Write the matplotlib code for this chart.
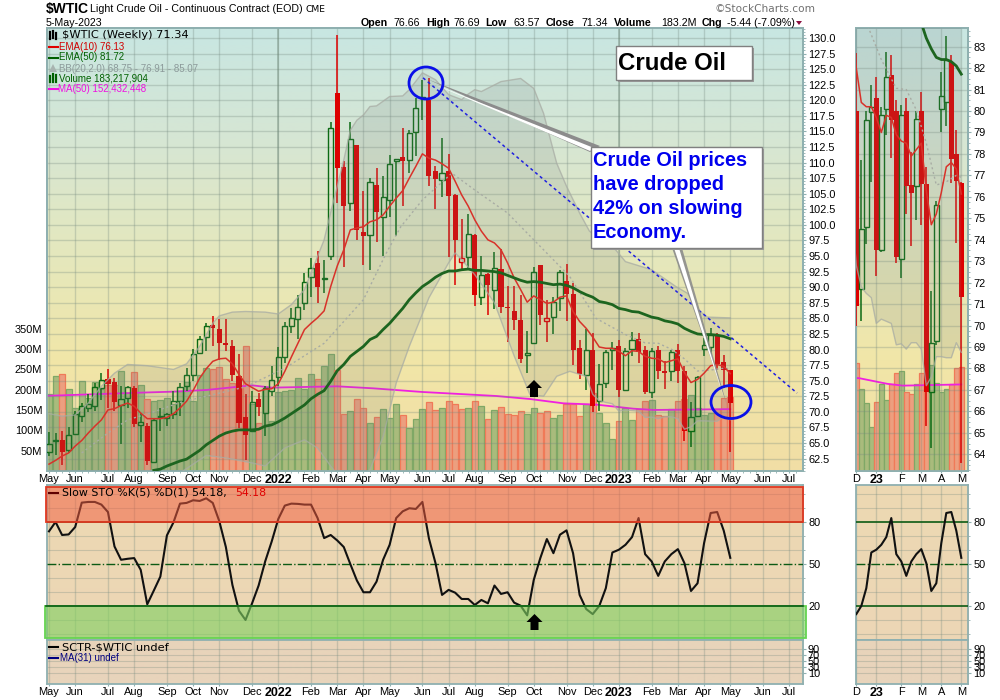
"""Weekly $WTIC candlestick chart with volume, slow stochastic and a detail inset."""

import matplotlib
matplotlib.use("Agg")
import numpy as np
import matplotlib.pyplot as plt
from matplotlib.patches import Rectangle, Ellipse, Polygon

plt.rcParams["font.family"] = ["Liberation Sans", "DejaVu Sans"]

opens = [63.5, 65.3, 65.5, 63.8, 66.5, 69.4, 70.6, 71.0, 73.9, 75.3, 74.8, 71.1, 72.2, 73.9, 67.9, 67.8, 61.9, 69.2, 69.0, 69.7,
         71.7, 74.1, 75.9, 79.5, 82.0, 83.9, 83.3, 81.0, 80.6, 75.8, 69.2, 66.9, 72.1, 69.8, 73.3, 75.6, 78.8, 83.7, 84.9, 87.5,
         91.7, 93.9, 91.3, 95.0, 121.1, 109.3, 103.5, 112.8, 98.9, 98.3, 106.4, 101.2, 104.0, 110.3, 110.9, 110.4, 114.9, 120.4, 120.05, 108.6,
         107.2, 108.7, 104.8, 94.1, 94.9, 98.4, 88.4, 92.1, 89.5, 92.9, 86.85, 86.2, 84.8, 79.1, 81.0, 93.5, 84.55, 85.2, 88.3, 91.0,
         88.9, 80.2, 75.9, 80.0, 71.7, 74.6, 79.95, 80.6, 73.5, 80.1, 81.7, 80.0, 73.1, 80.0, 76.55, 76.5, 80.0, 76.6, 66.9, 69.3,
         80.1, 80.4, 82.3, 78.0, 76.66]
highs = [66.8, 66.6, 67.0, 67.6, 70.1, 71.4, 72.9, 74.7, 76.2, 76.9, 75.4, 74.2, 74.2, 74.1, 69.8, 68.2, 69.0, 70.6, 69.8, 73.3,
         74.6, 77.0, 80.1, 82.1, 84.2, 85.4, 84.9, 84.9, 81.6, 79.2, 72.9, 73.4, 73.0, 74.1, 77.4, 80.4, 84.4, 86.6, 88.8, 92.3,
         94.7, 95.8, 94.4, 116.5, 130.5, 110.2, 116.5, 112.8, 105.5, 107.5, 109.1, 107.9, 111.2, 110.6, 115.5, 115.3, 120.3, 123.3, 123.5, 109.4,
         113.9, 111.4, 105.0, 101.0, 101.8, 98.5, 95.0, 92.3, 95.6, 96.1, 90.2, 90.2, 88.8, 83.0, 93.2, 93.6, 88.0, 88.5, 92.8, 93.8,
         90.7, 81.6, 83.3, 82.7, 77.7, 80.0, 81.2, 81.6, 80.2, 82.75, 82.6, 80.5, 80.3, 80.6, 78.1, 80.0, 80.9, 77.4, 71.6, 75.8,
         81.8, 83.5, 82.6, 79.1, 76.69]
lows = [62.9, 63.0, 61.5, 63.4, 66.5, 68.3, 69.9, 70.2, 71.9, 70.6, 70.1, 64.9, 70.6, 67.5, 65.1, 61.5, 61.8, 67.0, 67.7, 68.9,
        69.3, 73.3, 74.9, 79.4, 79.7, 80.5, 78.3, 79.7, 75.0, 67.4, 62.3, 66.7, 69.3, 66.1, 72.5, 74.2, 77.8, 82.6, 81.7, 86.3,
        88.4, 87.5, 89.1, 94.3, 103.5, 93.3, 102.3, 97.5, 93.6, 92.8, 97.3, 95.0, 101.2, 98.2, 103.1, 108.4, 111.0, 116.85, 106.3, 102.5,
        104.45, 94.9, 90.4, 92.6, 93.1, 87.0, 87.1, 85.6, 86.5, 85.8, 81.2, 83.2, 77.9, 76.2, 80.9, 84.0, 81.2, 82.5, 86.1, 84.5,
        77.5, 75.2, 73.5, 70.0, 70.2, 73.8, 76.7, 72.3, 73.45, 78.9, 77.8, 72.9, 72.2, 75.2, 73.7, 74.9, 74.7, 65.3, 64.3, 69.1,
        79.0, 79.3, 76.65, 73.85, 63.57]
closes = [64.9, 65.5, 63.5, 66.3, 69.7, 70.9, 71.3, 74.0, 75.1, 74.4, 71.5, 72.1, 74.0, 68.1, 68.4, 62.1, 68.7, 69.3, 69.6, 71.7,
          74.0, 75.9, 79.3, 81.7, 83.7, 83.4, 81.1, 80.7, 75.9, 68.2, 66.2, 71.6, 70.7, 73.8, 75.1, 78.8, 83.8, 85.0, 86.8, 90.8,
          93.1, 90.1, 91.5, 115.6, 109.2, 103.0, 113.75, 99.1, 98.15, 106.85, 102.0, 104.5, 109.7, 110.5, 110.2, 114.8, 118.7, 120.6, 107.8, 107.4,
          108.3, 104.7, 97.5, 94.7, 98.5, 88.8, 91.9, 90.3, 93.1, 86.75, 86.7, 84.7, 78.5, 79.4, 92.5, 85.5, 85.05, 87.7, 92.5, 88.9,
          80.0, 76.1, 80.0, 70.9, 74.5, 79.6, 80.2, 73.5, 79.8, 81.6, 79.6, 73.2, 79.8, 76.5, 76.2, 79.65, 76.6, 66.9, 69.2, 75.6,
          80.7, 82.4, 77.75, 76.75, 71.34]
volumes = [189, 234, 238, 201, 154, 222, 181, 218, 201, 213, 213, 246, 193, 244, 213, 177, 172, 174, 179, 166,
           197, 218, 172, 236, 254, 250, 256, 226, 216, 213, 307, 166, 119, 201, 123, 195, 197, 200, 229, 201,
           238, 227, 258, 287, 249, 140, 147, 177, 154, 117, 132, 152, 131, 164, 138, 105, 127, 152, 169, 149,
           154, 172, 164, 152, 154, 172, 159, 127, 149, 157, 140, 138, 147, 140, 154, 142, 147, 130, 137, 166,
           166, 135, 164, 191, 144, 119, 78, 122, 154, 125, 153, 172, 176, 139, 135, 153, 172, 178, 187, 155,
           139, 144, 153, 181, 183.2]
ema10 = [61.6, 62.2, 62.9, 63.4, 64.5, 65.4, 66.6, 67.7, 68.7, 70.3, 70.5, 71.0, 71.4, 70.9, 69.8, 68.9, 68.9, 68.9, 69.1, 69.7,
         70.6, 71.7, 73.4, 75.4, 76.9, 78.1, 78.5, 78.6, 77.7, 76.0, 74.5, 73.9, 73.3, 73.6, 73.7, 74.5, 76.5, 78.8, 81.0, 83.2,
         84.2, 85.1, 86.2, 90.1, 93.4, 96.0, 99.2, 99.5, 99.7, 100.5, 100.8, 101.6, 103.0, 104.3, 105.5, 107.5, 109.4, 111.4, 110.7, 110.4,
         109.8, 109.1, 107.0, 104.8, 103.0, 100.8, 99.0, 97.6, 97.1, 96.0, 93.9, 91.5, 89.6, 87.6, 88.6, 88.0, 87.4, 87.6, 88.4, 88.6,
         86.1, 84.5, 83.4, 82.0, 80.4, 80.2, 80.2, 79.7, 79.0, 79.8, 79.7, 78.9, 78.6, 78.5, 77.9, 78.2, 78.5, 76.3, 74.7, 75.2,
         76.2, 77.4, 77.6, 77.3, 76.13]
ema50_start = 16
ema50 = [60.6, 60.8, 61.3, 61.7,
         62.1, 62.4, 63.1, 63.8, 64.7, 65.4, 66.1, 66.6, 66.9, 67.1, 67.1, 67.1, 67.2, 67.7, 67.9, 68.4, 69.0, 69.7, 70.4, 71.1,
         72.1, 72.8, 73.4, 74.9, 76.6, 77.6, 78.9, 79.7, 80.5, 81.6, 82.1, 83.2, 84.2, 85.4, 86.6, 88.0, 89.1, 90.1, 90.8, 91.6,
         92.2, 92.6, 92.6, 92.8, 92.9, 92.7, 92.7, 92.6, 92.5, 92.3, 91.9, 91.5, 91.1, 90.8, 90.9, 90.8, 90.6, 90.4, 90.5, 90.3,
         89.9, 89.3, 88.8, 88.4, 87.7, 87.5, 87.2, 86.6, 86.4, 86.1, 86.0, 85.6, 85.2, 85.0, 84.6, 84.4, 84.1, 83.4, 82.9, 82.5,
         82.4, 82.4, 82.3, 82.1, 81.72]
bb_upper_idx = [0, 2, 4, 6, 8, 10, 12, 15, 19, 21, 23, 25, 26, 28, 30, 33, 35, 37, 39, 40, 42, 43, 45, 46, 47, 48, 49, 50, 52, 54, 55, 57,
                59, 61, 63, 64, 65, 66, 69, 72, 74, 75.5, 77.5, 79, 81, 82.5, 84, 86.5, 88, 92, 95.7, 97.5, 99, 100.5, 104]
bb_upper = [69.7, 69.3, 69.5, 71.4, 74.1, 76.2, 77.6, 77.4, 76.8, 77.7, 80.5, 84.2, 85.4, 86.0, 86.1, 86.0, 85.7, 87.2, 89.6, 92.3, 97.6, 102.0, 110.4, 115.2, 116.8, 117.65, 119.0, 119.1, 120.6, 120.7, 121.7, 124.4,
            123.3, 120.9, 120.1, 121.0, 121.7, 121.4, 123.0, 123.5, 121.9, 117.9, 109.9, 106.2, 101.9, 99.0, 97.8, 96.0, 94.1, 92.8, 90.1, 89.0, 86.4, 85.2, 85.07]
bb_mid_idx = [5, 9, 12, 16, 20, 24, 30, 36, 42, 48, 51.5, 53.7, 57, 61.5, 65, 70, 74, 77, 79.5, 83.5, 88, 91, 93, 95, 97, 99, 101, 103, 104]
bb_mid = [63.4, 66.6, 68.7, 70.0, 71.5, 72.5, 74.0, 77.0, 81.0, 88.0, 95.5, 99.7, 104.0, 108.3, 105.6, 101.9, 97.6, 94.4, 91.7, 85.0, 82.4, 81.06, 81.0, 80.05, 78.5, 76.55, 76.7, 77.0, 76.91]
bb_lower_idx = [0, 14, 20, 24, 27, 31, 33, 36, 39, 41, 43, 44, 46, 49, 51, 53, 55, 58, 61, 62, 63, 65, 68, 71, 73.4, 75.5, 77.5, 79.5, 82, 83,
                84, 85, 86, 87, 88, 90, 91, 92, 93, 94, 95, 96, 97, 98, 99, 100, 101, 102, 103, 104]
bb_lower = [58.0, 58.0, 60.2, 63.0, 62.6, 61.8, 61.3, 64.2, 65.5, 64.2, 61.3, 60.0, 58.0, 60.7, 66.0, 74.6, 80.5, 88.3, 93.9, 95.5, 94.4, 92.0, 87.5, 79.0, 72.8, 72.5, 75.7, 76.5, 75.7, 72.8,
            71.8, 71.5, 71.3, 70.1, 70.3, 70.1, 69.1, 69.15, 68.9, 69.2, 69.2, 68.9, 67.2, 67.6, 68.55, 68.55, 68.5, 68.5, 69.2, 68.75]
vol_ma_idx = [-1, 14, 19, 24, 31, 34, 44, 49.5, 57, 61.7, 68.3, 73.4, 78.5, 83.6, 89.2, 92.3, 104]
vol_ma = [184.7, 193, 195.4, 199.5, 211, 205.3, 208.5, 203.6, 194.6, 190.5, 184.7, 177.3, 166.7, 163.4, 153.5, 150.3, 152.4]
sto_k = [73.1, 79.8, 70.5, 70.9, 76.2, 93.6, 94.1, 94.1, 92.2, 86.9, 62.3, 52.8, 53.5, 54.0, 45.6, 21.0, 30.8, 40.8, 70.2, 79.5,
         92.9, 93.4, 95.3, 94.8, 96.7, 93.4, 80.3, 61.9, 34.8, 16.4, 9.8, 21.7, 34.4, 51.6, 65.9, 81.9, 91.5, 92.9, 92.7, 92.2,
         92.2, 82.6, 68.3, 70.5, 66.6, 61.9, 49.7, 38.0, 29.6, 29.6, 37.2, 52.8, 63.5, 82.6, 87.4, 89.6, 89.1, 94.1, 68.0, 50.4,
         27.7, 31.3, 29.3, 24.8, 24.8, 20.5, 24.1, 21.7, 34.4, 28.4, 29.6, 22.2, 20.0, 13.1, 38.4, 54.0, 67.6, 57.5, 70.7, 73.8,
         57.5, 27.7, 17.6, 14.0, 19.8, 32.5, 58.0, 60.0, 63.5, 69.0, 82.6, 56.8, 51.6, 41.3, 51.6, 56.8, 60.4, 50.4, 30.5, 36.0,
         64.7, 86.2, 86.9, 73.6, 54.18]
trend_idx = [57.1, 114.2]
trend_val = [123.6, 73.0]

month_idx = [0, 4, 9, 13, 18, 22, 26, 31, 35, 40, 44, 48, 52, 57, 61, 65, 70, 74, 79, 83, 87, 92, 96, 100, 104, 109, 113]
month_labels = ["May", "Jun", "Jul", "Aug", "Sep", "Oct", "Nov", "Dec", "2022", "Feb", "Mar", "Apr", "May", "Jun", "Jul",
                "Aug", "Sep", "Oct", "Nov", "Dec", "2023", "Feb", "Mar", "Apr", "May", "Jun", "Jul"]
inset_month_idx = [83, 87, 92, 96, 100, 104]
inset_month_labels = ["D", "23", "F", "M", "A", "M"]
vol_ticks = [50, 100, 150, 200, 250, 300, 350]
price_ticks = np.arange(62.5, 130.1, 2.5)
inset_price_ticks = np.arange(64, 84)

BORDER = "#8fb0b0"
GRID = "#74897f"
GRID_ALPHA = 0.3
GREEN = "#0c6a14"
RED = "#dd0000"
VOL_GREEN = ("#a9bb7c", "#7fa866")
VOL_RED = ("#ec9f7f", "#f07a58")
TICK_FS = 7.9
W, H = 1000, 700
MAIN_BG = [(0, (200, 230, 226)), (0.25, (214, 230, 212)), (0.5, (228, 232, 190)), (0.75, (241, 230, 168)), (1, (241, 222, 165))]


def px_axes(fig, x0, y0, x1, y1):
    return fig.add_axes([x0 / W, 1 - y1 / H, (x1 - x0) / W, (y1 - y0) / H])


def gradient(ax, stops):
    """Vertical background gradient, stops are (fraction from top, rgb)."""
    fr = np.linspace(0, 1, 256)
    pos = [s[0] for s in stops]
    rgb = np.stack([np.interp(fr, pos, [s[1][c] for s in stops]) for c in range(3)], axis=1) / 255.0
    ax.imshow(rgb[:, None, :], extent=(0, 1, 0, 1), transform=ax.transAxes, aspect="auto", zorder=0, origin="upper")


def is_red(i):
    return i > 0 and closes[i] < closes[i - 1]


def draw_volume(ax, idx, width):
    for i in idx:
        fc, ec = VOL_RED if is_red(i) else VOL_GREEN
        ax.bar(i, volumes[i], width=width, color=fc, edgecolor=ec, linewidth=0.9, zorder=3)
    ax.plot(vol_ma_idx, vol_ma, color="#f020e0", lw=1.3, zorder=4)


def draw_candles(ax, idx, width):
    for i in idx:
        col = RED if is_red(i) else GREEN
        top, bot = max(opens[i], closes[i]), min(opens[i], closes[i])
        ax.vlines(i, top, highs[i], color=col, linewidth=1.1, zorder=3)
        ax.vlines(i, lows[i], bot, color=col, linewidth=1.1, zorder=3)
        if closes[i] < opens[i]:
            ax.bar(i, top - bot, bottom=bot, width=width, color=col, linewidth=0, zorder=3)
        else:
            ax.bar(i, top - bot, bottom=bot, width=width, fill=False, edgecolor=col, linewidth=1.0, zorder=3)


def draw_overlays(ax):
    ax.fill(bb_upper_idx + bb_lower_idx[::-1], bb_upper + bb_lower[::-1], color="#75807f", alpha=0.16, linewidth=0, zorder=4)
    ax.plot(bb_upper_idx, bb_upper, color="#a8aca4", lw=1, alpha=0.75, zorder=4)
    ax.plot(bb_lower_idx, bb_lower, color="#a8aca4", lw=1, alpha=0.75, zorder=4)
    ax.plot(bb_mid_idx, bb_mid, color="#a8aca4", lw=1, ls=(0, (1.5, 2)), zorder=4)
    ax.plot(np.arange(105), ema10, color="#d8322a", lw=1.1, zorder=5)
    ax.plot(np.arange(ema50_start, 105), ema50, color="#1d651f", lw=2.0, zorder=5)


def style_x(ax, ticks, labels=None):
    ax.set_xticks(ticks)
    if labels is None:
        ax.set_xticklabels([])
    else:
        ax.set_xticklabels(labels, fontsize=TICK_FS)
        for t in ax.get_xticklabels():
            if t.get_text() in ("2022", "2023", "23"):
                t.set_fontweight("bold")
                t.set_fontsize(9)
    ax.tick_params(axis="x", length=1.5, color=BORDER, pad=1)
    ax.grid(True, axis="x", color=GRID, alpha=GRID_ALPHA, lw=1)


def style_spines(ax):
    for s in ax.spines.values():
        s.set_color(BORDER)
        s.set_linewidth(1.3)


fig = plt.figure(figsize=(W / 100, H / 100), dpi=100)

# main price panel, volume sits on a twin axis below the candles
ax = px_axes(fig, 46.5, 28, 803, 471)
ax_vol = ax.twinx()
ax.set_zorder(2)
ax_vol.set_zorder(1)
ax.patch.set_visible(False)
gradient(ax_vol, MAIN_BG)
draw_volume(ax_vol, range(105), 0.92)
ax_vol.set_ylim(0, 1091)
ax_vol.set_yticks(vol_ticks)
ax_vol.set_yticklabels([f"{v}M" for v in vol_ticks], fontsize=TICK_FS)
ax_vol.yaxis.tick_left()
ax_vol.tick_params(axis="y", length=0, pad=3)

draw_candles(ax, range(105), 0.78)
draw_overlays(ax)
ax.plot(trend_idx, trend_val, color="#1f1fe0", lw=1.1, ls=(0, (2, 2)), zorder=6)
ax.set_xlim(-0.38, 115.1)
ax_vol.set_xlim(-0.38, 115.1)
ax.set_ylim(60.58, 131.6)
ax.yaxis.tick_right()
ax.set_yticks(price_ticks)
ax.set_yticklabels([f"{p:.1f}" for p in price_ticks], fontsize=TICK_FS)
ax.set_yticks(np.arange(60.5, 131.6, 0.5), minor=True)
ax.set_xticks(np.arange(0, 115), minor=True)
ax.tick_params(axis="y", length=2.5, color=BORDER, pad=1.5)
ax.tick_params(which="minor", length=1.2, color=BORDER)
ax.set_axisbelow(True)
ax.grid(True, axis="y", color=GRID, alpha=GRID_ALPHA, lw=1)
style_x(ax, month_idx, month_labels)
ax.axvline(35, color="#66806f", alpha=0.45, lw=1.2, zorder=1)
ax.axvline(87, color="#66806f", alpha=0.45, lw=1.2, zorder=1)
style_spines(ax)
style_spines(ax_vol)

# inset price panel on the last weeks
inset_range = range(83, 105)
ix = px_axes(fig, 855.7, 28, 968.3, 471)
ix_vol = ix.twinx()
ix.set_zorder(2)
ix_vol.set_zorder(1)
ix.patch.set_visible(False)
gradient(ix_vol, MAIN_BG)
draw_volume(ix_vol, inset_range, 1.0)
ix_vol.set_ylim(0, 780)
ix_vol.set_yticks([])
draw_candles(ix, inset_range, 0.95)
draw_overlays(ix)
ix.set_xlim(82.88, 105.4)
ix_vol.set_xlim(82.88, 105.4)
ix.set_ylim(63.22, 83.87)
ix.yaxis.tick_right()
ix.set_yticks(inset_price_ticks)
ix.set_yticklabels([str(p) for p in inset_price_ticks], fontsize=TICK_FS)
ix.set_yticks(np.arange(63.25, 83.9, 0.25), minor=True)
ix.tick_params(axis="y", length=2.5, color=BORDER, pad=1.5)
ix.tick_params(which="minor", length=1.2, color=BORDER)
ix.set_axisbelow(True)
ix.grid(True, axis="y", color=GRID, alpha=GRID_ALPHA, lw=1)
style_x(ix, inset_month_idx, inset_month_labels)
style_spines(ix)
style_spines(ix_vol)

# stochastic panels
sto_bg = [(0, (237, 217, 178)), (1, (236, 214, 182))]
low_bg = [(0, (232, 212, 186)), (1, (232, 212, 188))]
for left, right, xl, ticks, labels, first in [
    (46.5, 803, (-0.38, 115.1), month_idx, month_labels, 0),
    (855.7, 968.3, (82.88, 105.4), inset_month_idx, inset_month_labels, 83),
]:
    a = px_axes(fig, left, 485, right, 640)
    gradient(a, sto_bg)
    a.plot(np.arange(first, 105), sto_k[first:], color="#111111", lw=1.5, zorder=4)
    a.axhline(50, color="#0c5a14", lw=1, ls="-.", zorder=3)
    a.axhline(20, color="#0c5a14", lw=1.2, zorder=3)
    a.axhline(80, color="#0c5a14", lw=1.2, zorder=3)
    a.set_xlim(*xl)
    a.set_ylim(-4.5, 106.2)
    a.yaxis.tick_right()
    a.set_yticks([20, 50, 80])
    a.set_yticklabels(["20", "50", "80"], fontsize=TICK_FS)
    a.set_yticks(np.arange(0, 106, 10), minor=True)
    a.tick_params(axis="y", length=2.5, color=BORDER, pad=1.5)
    a.tick_params(which="minor", length=1.2, color=BORDER)
    a.grid(True, axis="y", which="minor", color=GRID, alpha=GRID_ALPHA, lw=0.8)
    a.set_axisbelow(True)
    style_x(a, ticks)
    style_spines(a)

    b = px_axes(fig, left, 640, right, 684)
    gradient(b, low_bg)
    b.set_xlim(*xl)
    b.set_ylim(-26.7, 120)
    b.yaxis.tick_right()
    b.set_yticks([10, 30, 50, 70, 90])
    b.set_yticklabels(["10", "30", "50", "70", "90"], fontsize=TICK_FS)
    b.tick_params(axis="y", length=2, color=BORDER, pad=1.5)
    b.grid(True, axis="y", color=GRID, alpha=GRID_ALPHA, lw=0.8)
    b.set_axisbelow(True)
    style_x(b, ticks, labels)
    style_spines(b)

# annotations, drawn in picture coordinates on a clear top layer
ov = fig.add_axes([0, 0, 1, 1], zorder=10)
ov.axis("off")

ov.add_patch(Rectangle((46, 486.5), 757, 35.5, facecolor=(0.95, 0.36, 0.25, 0.52), edgecolor=(0.88, 0.22, 0.13, 1), lw=1.3))
ov.add_patch(Rectangle((44.5, 605.7), 761, 32.5, facecolor=(0.50, 0.82, 0.38, 0.62), edgecolor=(0.40, 0.83, 0.32, 1), lw=1.3))
ov.plot([46, 803], [605.5, 605.5], color="#0c5a14", lw=1.2)

for tip, hw, hb, sw, sb in [((534, 380), 8, 388, 4, 397), ((534.5, 614), 8, 622, 4, 630)]:
    x0, y0 = tip
    ov.add_patch(Polygon([(x0, y0), (x0 + hw, hb), (x0 + sw, hb), (x0 + sw, sb), (x0 - sw, sb), (x0 - sw, hb), (x0 - hw, hb)], color="black", lw=0))

# callout pointers and boxes
ov.add_patch(Polygon([(427, 79), (600, 146), (590, 152)], facecolor="#8c8c8c", edgecolor="none"))
ov.add_patch(Polygon([(431, 83), (594, 148), (590, 151)], facecolor="white", edgecolor="none"))
ov.add_patch(Polygon([(672, 248), (682, 248), (727, 405)], facecolor="#8c8c8c", edgecolor="none", alpha=0.9))
ov.add_patch(Polygon([(674, 248), (679, 248), (724, 398)], facecolor="white", edgecolor="none"))

for x0, y0, x1, y1 in [(615.5, 46, 752, 80), (590.5, 146.5, 761.5, 248)]:
    ov.add_patch(Rectangle((x0 + 2, y0 + 2), x1 - x0, y1 - y0, facecolor="#9a9a9a", edgecolor="none"))
    ov.add_patch(Rectangle((x0, y0), x1 - x0, y1 - y0, facecolor="white", edgecolor="#808080", lw=1))
ov.text(618, 63, "Crude Oil", fontsize=17.3, fontweight="bold", color="black", va="center")
for y, line in zip([161, 185, 209, 233], ["Crude Oil prices", "have dropped", "42% on slowing", "Economy."]):
    ov.text(593, y, line, fontsize=14.4, fontweight="bold", color="#0000ee", va="center")

ov.add_patch(Ellipse((426, 83), 34, 32, fill=False, edgecolor="#0a10e8", lw=2))
ov.add_patch(Ellipse((731, 402), 40, 33, fill=False, edgecolor="#0a10e8", lw=2))

# header
ov.text(46, 9, "$WTIC", fontsize=10, fontweight="bold", va="center", parse_math=False)
ov.text(90, 9, "Light Crude Oil - Continuous Contract (EOD)", fontsize=7.7, va="center")
ov.text(305, 10, "CME", fontsize=6.6, va="center", family="DejaVu Sans")
ov.text(46, 22.5, "5-May-2023", fontsize=7.7, va="center")
ov.text(714, 9, "\u00a9StockCharts.com", fontsize=7.6, color="#707070", va="center", family="DejaVu Sans")
for x, s, bold in [(361, "Open", True), (393, "76.66", False), (426, "High", True), (453, "76.69", False),
                   (485, "Low", True), (513, "63.57", False), (546, "Close", True), (581, "71.34", False),
                   (614, "Volume", True), (661, "183.2M", False), (702, "Chg", True), (727, "-5.44 (-7.09%)", False)]:
    ov.text(x, 22.5, s, fontsize=7.7, fontweight="bold" if bold else "normal", va="center")
ov.add_patch(Polygon([(796, 21), (802, 21), (799, 25)], color="#8b1040", lw=0))

# legends inside the panels
wide = "DejaVu Sans"
ov.text(62, 35.5, "$WTIC (Weekly) 71.34", fontsize=8.2, family=wide, va="center", parse_math=False)
ov.text(59, 46.5, "EMA(10) 76.13", fontsize=7, color="#d00000", va="center")
ov.text(59, 57.5, "EMA(50) 81.72", fontsize=7, color="#006000", va="center")
ov.text(59, 68.5, "BB(20,2.0) 68.75 - 76.91 - 85.07", fontsize=7, color="#8c9a9a", va="center")
ov.text(59, 78.5, "Volume 183,217,904", fontsize=7, color="#006000", va="center")
ov.text(58.5, 88.5, "MA(50) 152,432,448", fontsize=7, color="#f010e0", va="center")
ov.text(62, 492.5, "Slow STO %K(5) %D(1) 54.18,", fontsize=7.9, family=wide, va="center")
ov.text(235.5, 492.5, "54.18", fontsize=7.9, color="#e00000", family=wide, va="center")
ov.text(62, 647, "SCTR-$WTIC undef", fontsize=8.2, family=wide, va="center", parse_math=False)
ov.text(59.5, 658, "MA(31) undef", fontsize=7, color="#000080", va="center")
for y, col in [(46.5, "#e00000"), (57.5, "#006000"), (88.5, "#f010e0"), (492.5, "#600000"), (647, "black"), (658, "#000080")]:
    ov.plot([49, 58], [y, y], color=col, lw=1.5)

# small legend icons
for x, y0, y1, col in [(50, 32, 39, "black"), (53, 31, 38, "black"), (56, 33, 39, "black"),
                       (50, 76, 82, "#006000"), (53, 74, 82, "#006000"), (56, 75, 82, "#006000")]:
    ov.plot([x, x], [y0, y1], color=col, lw=1.6)
ov.add_patch(Polygon([(49, 72), (53, 64), (57, 72)], color="#a8b4b0", lw=0))
ov.set_xlim(0, W)
ov.set_ylim(H, 0)

fig.savefig("out.png", dpi=100)
